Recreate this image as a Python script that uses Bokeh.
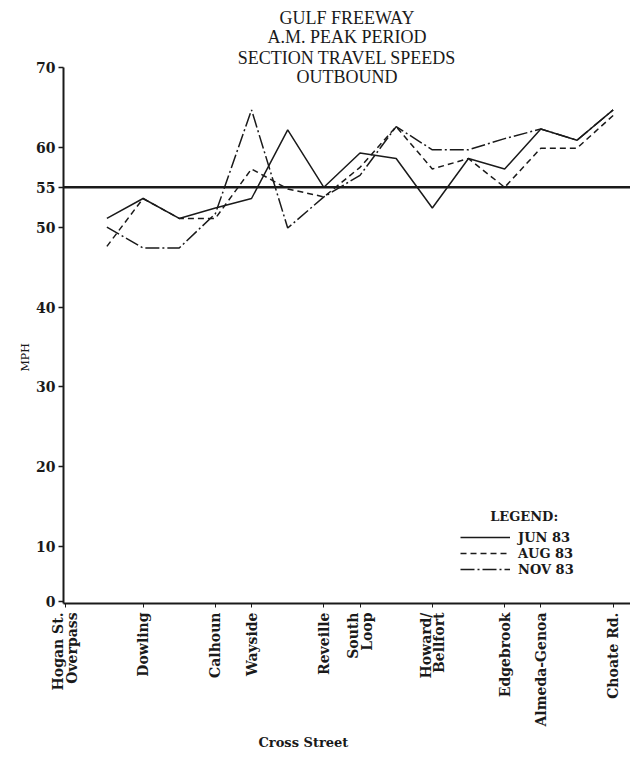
import math
from bokeh.plotting import figure
from bokeh.models import Range1d, FixedTicker, Span, Label, Legend, LegendItem, Title
from bokeh.embed import file_html
from bokeh.resources import INLINE

# ---- data ----
section_index = list(range(15))
jun_83 = [51.1, 53.6, 51.1, 52.4, 53.6, 62.2, 55.0, 59.3, 58.6, 52.4, 58.6, 57.3, 62.3, 60.9, 64.7]
aug_83 = [47.6, 53.6, 51.1, 51.1, 57.3, 54.8, 53.8, 57.5, 62.6, 57.3, 58.6, 55.0, 59.9, 59.9, 64.0]
nov_83 = [50.0, 47.4, 47.4, 51.7, 64.7, 49.9, 53.8, 56.5, 62.6, 59.7, 59.7, 61.1, 62.3, 60.9, 64.7]

cross_streets = ["Hogan St.\nOverpass", "Dowling", "Calhoun", "Wayside", "Reveille",
                 "South\nLoop", "Howard/\nBellfort", "Edgebrook", "Almeda-Genoa", "Choate Rd."]
cross_street_pos = [-1.15, 1, 3, 4, 6, 7, 9, 11, 12, 14]

mph_ticks = [10, 20, 30, 40, 50, 55, 60, 70]
zero_tick = 3.1          # the original axis is compressed between 0 and 10
speed_limit = 55

title_lines = ["GULF FREEWAY", "A.M. PEAK PERIOD", "SECTION TRAVEL SPEEDS", "OUTBOUND"]
series_names = ["JUN 83", "AUG 83", "NOV 83"]

INK = "#1a1a1a"
SERIF = "DejaVu Serif"

x_lo, x_hi = -1.2, 14.48
y_lo, y_hi = 2.86, 77.4

p = figure(width=630, height=757,
           x_range=Range1d(x_lo, x_hi), y_range=Range1d(y_lo, y_hi),
           output_backend="svg", toolbar_location=None,
           min_border_left=63, min_border_right=0, min_border_top=8, min_border_bottom=154)
p.outline_line_color = None
p.xgrid.visible = False
p.ygrid.visible = False
p.background_fill_color = "white"

# y axis
ya = p.yaxis[0]
ya.ticker = FixedTicker(ticks=[zero_tick] + mph_ticks)
ya.major_label_overrides = {zero_tick: "0"}
ya.bounds = (y_lo, 70)
ya.axis_line_width = 2
ya.axis_line_color = INK
ya.major_tick_out = 5
ya.major_tick_in = 0
ya.major_tick_line_color = INK
ya.major_tick_line_width = 1.5
ya.minor_tick_line_color = None
ya.major_label_standoff = 3
ya.major_label_text_font = SERIF
ya.major_label_text_font_style = "bold"
ya.major_label_text_font_size = "14px"
ya.major_label_text_color = INK

# x axis
xa = p.xaxis[0]
xa.ticker = FixedTicker(ticks=cross_street_pos)
xa.major_label_overrides = {pos: name for pos, name in zip(cross_street_pos, cross_streets)}
xa.major_label_orientation = math.pi / 2
xa.axis_line_width = 2
xa.axis_line_color = INK
xa.major_tick_out = 4
xa.major_tick_in = 0
xa.major_tick_line_color = INK
xa.minor_tick_line_color = None
xa.major_label_standoff = 5
xa.major_label_text_font = SERIF
xa.major_label_text_font_style = "bold"
xa.major_label_text_font_size = "14px"
xa.major_label_text_line_height = 0.85
xa.major_label_text_color = INK

# speed-limit line
p.add_layout(Span(location=speed_limit, dimension="width", line_color=INK, line_width=2.5))

r_jun = p.line(section_index, jun_83, line_color=INK, line_width=1.5)
r_aug = p.line(section_index, aug_83, line_color=INK, line_width=1.5, line_dash="6 4")
r_nov = p.line(section_index, nov_83, line_color=INK, line_width=1.5, line_dash="14 3 2 3")

legend = Legend(items=[LegendItem(label=series_names[0], renderers=[r_jun]),
                       LegendItem(label=series_names[1], renderers=[r_aug]),
                       LegendItem(label=series_names[2], renderers=[r_nov])],
                location=(397, 26), orientation="vertical",
                background_fill_alpha=0, border_line_alpha=0,
                padding=0, margin=0, spacing=0,
                glyph_width=50, glyph_height=16, label_height=16, label_standoff=8,
                label_text_font=SERIF, label_text_font_style="bold",
                label_text_font_size="13px", label_text_color=INK)
p.add_layout(legend)

# title lines
title_y = [76.27, 73.77, 71.26, 68.76]
for txt, ty in zip(title_lines, title_y):
    p.add_layout(Label(x=(x_lo + x_hi) / 2, y=ty, text=txt, text_align="center",
                       text_baseline="middle", text_font="Liberation Serif",
                       text_font_size="18px", text_color=INK))

p.add_layout(Label(x=11.54, y=13.73, text="LEGEND:", text_align="center",
                   text_baseline="middle", text_font=SERIF, text_font_style="bold",
                   text_font_size="13px", text_color=INK))

p.add_layout(Title(text="MPH", align="left", offset=232, standoff=4,
                   text_font=SERIF, text_font_style="normal", text_font_size="11px",
                   text_color=INK), "left")

p.add_layout(Title(text="Cross Street", align="left", offset=195, standoff=6,
                   text_font=SERIF, text_font_style="bold", text_font_size="13px",
                   text_color=INK), "below")

open("out.html", "w").write(file_html(p, INLINE))
